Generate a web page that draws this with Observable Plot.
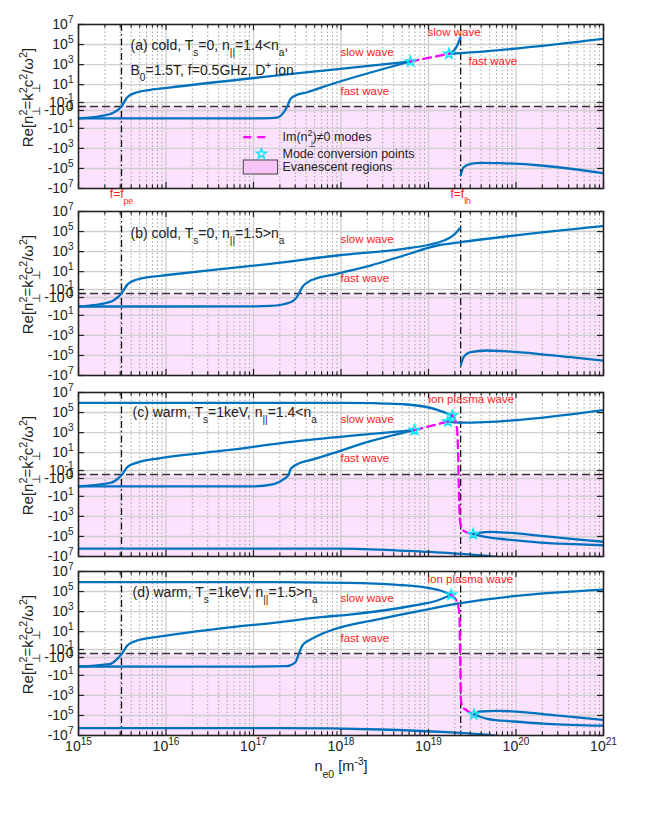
<!DOCTYPE html>
<html><head><meta charset="utf-8">
<script src="https://cdn.jsdelivr.net/npm/d3@7"></script>
<script src="https://cdn.jsdelivr.net/npm/@observablehq/plot@0.6"></script>
<style>
body{margin:0;background:#fff}
#wrap{position:relative;width:654px;height:817px;overflow:hidden}
</style>
</head><body><div id="wrap"></div>
<script>
// ---------- axis values ----------
const xDecades = [1e15, 1e16, 1e17, 1e18, 1e19, 1e20, 1e21];
const xTickLabels = ["10^{15}", "10^{16}", "10^{17}", "10^{18}", "10^{19}", "10^{20}", "10^{21}"];
const yTicks = [1e7, 1e5, 1e3, 1e1, 1e-1, 0, -1e-1, -1e1, -1e3, -1e5, -1e7];
const yTickLabels = ["10^{7}", "10^{5}", "10^{3}", "10^{1}", "10^{-1}", "0", "-10^{-1}", "-10^{1}", "-10^{3}", "-10^{5}", "-10^{7}"];
const fpe = 3.1e15, flh = 2.33e19;

// ---------- panel (a) cold, n|| = 1.4 ----------
const aSlow = [[1e15,-0.96],[1.78e15,-0.55],[2.53e15,-0.2],[3.1e15,0],[3.61e15,0.49],[4.69e15,1.7],[6.65e15,3.0],[1.03e16,4.8],[7.59e17,304],[6.22e18,2046]];
const aFast = [[1e15,-0.96],[1e17,-0.94],[1.6e17,-0.9],[1.87e17,-0.8],[2.22e17,-0.18],[2.43e17,0],[2.65e17,0.32],[3.02e17,0.77],[4.11e17,1.7],[7.59e17,10.4],[6.22e18,2046]];
const aIm = [[6.22e18,2046],[1.71e19,1.2e4]];
const aSlow2 = [[1.71e19,1.2e4],[1.95e19,2.55e4],[2.13e19,8.05e4],[2.28e19,3.75e5],[2.32e19,5.4e5]];
const aFast2 = [[1.71e19,1.2e4],[2.32e19,1.4e4],[1e21,3.75e5]];
const aNeg = [[2.33e19,-5e5],[2.51e19,-8.05e4],[3.02e19,-3.44e4],[3.93e19,-2.74e4],[6.65e19,-3.0e4],[1.91e20,-5.08e4],[5.46e20,-1.43e5],[1e21,-2.98e5]];
const aStars = [[6.22e18,2046],[1.71e19,1.2e4]];

// ---------- panel (b) cold, n|| = 1.5 ----------
const bSlow = [[1e15,-1.25],[1.78e15,-0.7],[2.53e15,-0.25],[3.1e15,0],[3.61e15,0.45],[4.69e15,1.6],[6.65e15,2.9],[1.03e16,4.6],[1.56e17,61],[9.06e17,410],[5.22e18,1910],[1.05e19,5120],[1.5e19,1.28e4],[1.87e19,3.44e4],[2.13e19,1.01e5],[2.28e19,2.16e5]];
const bFast = [[1e15,-1.25],[1e17,-1.24],[1.56e17,-1.1],[2.65e17,-0.43],[3.02e17,-0.16],[3.3e17,0],[3.61e17,0.22],[4.48e17,1.25],[9.06e17,6.1],[2.17e18,41],[5.22e18,410],[1.26e19,4074],[2.32e19,8690],[1e21,3.5e5]];
const bNeg = [[2.35e19,-8.6e5],[2.52e19,-1.5e5],[3.02e19,-4.74e4],[4.66e19,-3.21e4],[7.24e19,-3.78e4],[1.75e20,-6.86e4],[4.2e20,-1.5e5],[1e21,-3.3e5]];

// ---------- panel (c) warm, n|| = 1.4 ----------
const cIon = [[1e15,9.4e5],[9.86e17,9.4e5],[2.37e18,8.57e5],[5.71e18,6.36e5],[8.84e18,4.02e5],[1.26e19,1.88e5],[1.56e19,9.46e4],[1.87e19,5.08e4]];
const cSlow = [[1e15,-0.96],[2.32e15,-0.4],[2.89e15,-0.08],[3.15e15,0],[3.61e15,0.3],[4.69e15,0.96],[8.65e15,2.8],[5e16,17.7],[2.89e17,127],[1.67e18,592],[6.92e18,1742]];
const cFast = [[1e15,-0.96],[1.01e17,-0.95],[1.71e17,-0.55],[2.22e17,-0.13],[2.53e17,0],[2.65e17,0.16],[3.16e17,0.64],[4.89e17,2.17],[9.86e17,15],[1.67e18,70],[6.92e18,1742]];
const cIm1 = [[6.92e18,1742],[1.66e19,1.25e4]];
const cLink = [[1.66e19,1.25e4],[1.87e19,5.08e4]];
const cFast2 = [[1.66e19,1.25e4],[2.32e19,9950],[1e21,1.8e5]];
const cIm2 = [[1.87e19,5.08e4],[2.04e19,1.47e4],[2.13e19,1483],[2.18e19,6.9],[2.22e19,-1.28],[2.26e19,-284],[2.32e19,-6010],[2.53e19,-2.8e4],[3.24e19,-5.97e4]];
const cNegUp = [[3.24e19,-5.97e4],[3.93e19,-4.14e4],[5.11e19,-3.52e4],[7.93e19,-4.14e4],[1.91e20,-8.83e4],[4.58e20,-1.88e5],[1e21,-3.4e5]];
const cNegLow = [[3.24e19,-5.97e4],[4.29e19,-1.04e5],[7.93e19,-2.06e5],[1.91e20,-4.11e5],[4.58e20,-5.93e5],[1e21,-7.6e5]];
const cBottom = [[1e15,-1.63e6],[9.86e17,-1.63e6],[5.71e18,-2.76e6],[2.13e19,-5.13e6],[5.57e19,-1.02e7],[1e20,-2e7]];
const cStars = [[6.92e18,1742],[1.66e19,1.25e4],[1.87e19,5.08e4],[3.24e19,-5.97e4]];

// ---------- panel (d) warm, n|| = 1.5 ----------
const dIon = [[1e15,8.57e5],[2.04e17,8.57e5],[1.18e18,7.46e5],[4.38e18,4.72e5],[8.84e18,2.72e5],[1.37e19,1.27e5],[1.82e19,4.74e4]];
const dSlow = [[1e15,-1.25],[2.32e15,-0.64],[2.89e15,-0.09],[3.15e15,0],[3.61e15,0.35],[4.69e15,1.25],[8.65e15,3.3],[5e16,25],[2.04e17,88],[5.83e17,277],[1.18e18,481],[6.79e18,4074],[1.26e19,1.28e4],[1.82e19,4.74e4]];
const dFast = [[1e15,-1.25],[1e17,-1.27],[2.4e17,-1.15],[3.02e17,-0.43],[3.3e17,0],[3.61e17,0.35],[4.28e17,1.25],[5.83e17,5.2],[7.59e17,13.1],[2.83e18,192],[1.05e19,1910],[2.32e19,6900],[9.44e19,3.44e4],[1e21,1.55e5]];
const dIm = [[1.82e19,4.74e4],[2.13e19,8690],[2.26e19,410],[2.28e19,1.88],[2.32e19,-4.8],[2.34e19,-2190],[2.47e19,-1.51e4],[2.65e19,-2.56e4],[3.3e19,-8.05e4]];
const dNegUp = [[3.3e19,-8.05e4],[3.93e19,-4.05e4],[6.09e19,-3.44e4],[1.47e20,-5.45e4],[3.52e20,-1.19e5],[1e21,-2.85e5]];
const dNegLow = [[3.3e19,-8.05e4],[4.69e19,-2.16e5],[9.44e19,-4.02e5],[2.27e20,-6.81e5],[1e21,-1.05e6]];
const dBottom = [[1e15,-1.87e6],[2.04e17,-1.87e6],[2.83e18,-2.52e6],[1.64e19,-4.68e6],[5.57e19,-1e7],[1e20,-2e7]];
const dStars = [[1.82e19,4.74e4],[3.3e19,-8.05e4]];

// ---------- texts ----------
const yTitle = "Re[n_{⊥}^{2}=k_{⊥}^{2}c^{2}/ω^{2}]";
const xTitle = "n_{e0} [m^{-3}]";
const legendTexts = ["Im(n_{⊥}^{2})≠0 modes", "Mode conversion points", "Evanescent regions"];
const legendGeo = {x1: 7.74e16, x2: 1.56e17, yLine: -76.7, xStar: 1.23e17, yStar: -3470, bx2: 1.91e17, by1: -1.61e4, by2: -4.02e5};

// ---------- style ----------
const BLUE = "#0072bd", MAG = "#ff00ff", CYAN = "#00e8f5", RED = "#ff1a1a", PINK = "#fde2fd", INK = "#222";
const FONT = "'Liberation Sans', Arial, Helvetica, sans-serif";
const ML = 78, MR = 51, PH = 164, W = 654, STAR_R = 3.2;
const xMinor = [];
for (let e = 15; e < 21; e++) for (let k = 2; k <= 9; k++) xMinor.push(k * Math.pow(10, e));

function note(text, dx, dy, fill, size) {
  return Plot.text([text], {frameAnchor: "top-left", dx, dy, text: d => d, fill, fontSize: size, textAnchor: "start", lineAnchor: "middle"});
}

function panel(cfg) {
  const marks = [
    Plot.rect([0], {x1: 1e15, x2: 1e21, y1: -1e7, y2: 0, fill: PINK}),
    Plot.ruleX(xMinor, {stroke: "#9c9c9c", strokeWidth: 1, strokeDasharray: "1.4,2.4"}),
    Plot.ruleX(xDecades.slice(1, -1), {stroke: "#cfcfcf", strokeWidth: 1.4}),
    Plot.ruleY(yTicks.filter(v => v !== 0 && Math.abs(v) < 1e7), {stroke: "#cfcfcf", strokeWidth: 1.4}),
    Plot.ruleY([0], {stroke: "#333", strokeWidth: 1.6, strokeDasharray: "8,4"}),
    Plot.ruleX([fpe, flh], {stroke: "#111", strokeWidth: 1.3, strokeDasharray: "7,3,1.5,3"})
  ];
  if (cfg.legend) {
    marks.push(Plot.rect([0], {x1: legendGeo.x1, x2: legendGeo.bx2, y1: legendGeo.by1, y2: legendGeo.by2, fill: "#f6c4f6", stroke: "#444", strokeWidth: 1}));
  }
  for (const arr of cfg.blue) marks.push(Plot.line(arr, {stroke: BLUE, strokeWidth: 2.3, curve: "monotone-x", clip: true}));
  for (const arr of cfg.mag) marks.push(Plot.line(arr, {stroke: MAG, strokeWidth: 2.3, strokeDasharray: "8,5", curve: "monotone-x", clip: true}));
  if (cfg.stars) marks.push(Plot.dot(cfg.stars, {symbol: "star", r: STAR_R, stroke: CYAN, strokeWidth: 1.4, fill: "none"}));
  if (cfg.legend) {
    marks.push(Plot.ruleY([legendGeo.yLine], {x1: legendGeo.x1, x2: legendGeo.x2, stroke: MAG, strokeWidth: 2.3, strokeDasharray: "8,6"}));
    marks.push(Plot.dot([[legendGeo.xStar, legendGeo.yStar]], {symbol: "star", r: STAR_R, stroke: CYAN, strokeWidth: 1.4, fill: "none"}));
    marks.push(note(legendTexts[0], 204, 112.7, INK, 12.5));
    marks.push(note(legendTexts[1], 204, 129.3, INK, 12.5));
    marks.push(note(legendTexts[2], 204, 142.7, INK, 12.5));
  }
  // inward ticks
  const tk = {stroke: INK, strokeWidth: 1.2};
  marks.push(
    Plot.ruleX(xDecades, {y1: 1e7, y2: 2.5e6, ...tk}),
    Plot.ruleX(xMinor, {y1: 1e7, y2: 4.5e6, ...tk}),
    Plot.ruleX(xDecades, {y1: -1e7, y2: -2.5e6, ...tk}),
    Plot.ruleX(xMinor, {y1: -1e7, y2: -4.5e6, ...tk}),
    Plot.ruleY(yTicks, {x1: 1e15, x2: 1.17e15, ...tk}),
    Plot.ruleY(yTicks, {x1: 8.55e20, x2: 1e21, ...tk}),
    Plot.frame({stroke: INK, strokeWidth: 1.6}),
    Plot.axisY({ticks: yTicks, tickFormat: d => yTickLabels[yTicks.indexOf(d)], tickSize: 0, tickPadding: 5, label: null, fontSize: 14}),
    Plot.text([yTitle], {frameAnchor: "top-left", dx: -50, dy: 73, rotate: -90, text: d => d, fontSize: 15, textAnchor: "middle", lineAnchor: "middle", fill: INK})
  );
  for (const n of cfg.notes) marks.push(note(n[0], n[1], n[2], n[3] || INK, n[4] || 14));
  if (cfg.flabels) {
    marks.push(Plot.text([fpe], {x: d => d, frameAnchor: "bottom", dy: 6, text: () => "f=f_{pe}", fill: RED, fontSize: 12, lineAnchor: "middle"}));
    marks.push(Plot.text([flh], {x: d => d, frameAnchor: "bottom", dy: 6, text: () => "f=f_{lh}", fill: RED, fontSize: 12, lineAnchor: "middle"}));
  }
  if (cfg.xaxis) {
    marks.push(Plot.axisX({ticks: xDecades, tickFormat: d => xTickLabels[xDecades.indexOf(d)], tickSize: 0, tickPadding: 6, label: null, fontSize: 14}));
    marks.push(Plot.text([xTitle], {frameAnchor: "bottom", dy: 31, text: d => d, fontSize: 14.5, lineAnchor: "middle", fill: INK}));
  }
  const svg = Plot.plot({
    width: W, height: cfg.mt + PH + cfg.mb,
    marginLeft: ML, marginRight: MR, marginTop: cfg.mt, marginBottom: cfg.mb,
    x: {type: "log", domain: [1e15, 1e21], axis: cfg.xaxis ? undefined : null},
    y: {type: "symlog", constant: 0.0667, domain: [-1e7, 1e7]},
    style: {fontFamily: FONT, fontSize: "14px", color: INK, background: "transparent", overflow: "visible"},
    marks
  });
  svg.style.position = "absolute";
  svg.style.left = "0px";
  svg.style.top = cfg.top + "px";
  return svg;
}

const panels = [
  {top: 0, mt: 24, mb: 20, legend: true, flabels: true,
   blue: [aSlow, aFast, aSlow2, aFast2, aNeg], mag: [aIm], stars: aStars,
   notes: [["(a) cold, T_{s}=0, n_{||}=1.4<n_{a},", 52, 21], ["B_{0}=1.5T, f=0.5GHz, D^{+} ion", 52, 46],
           ["slow wave", 262, 28, RED, 11.5], ["fast wave", 262, 67, RED, 11.5],
           ["slow wave", 349, 8, RED, 11.5], ["fast wave", 390, 37, RED, 11.5]]},
  {top: 208, mt: 3, mb: 8,
   blue: [bSlow, bFast, bNeg], mag: [], stars: null,
   notes: [["(b) cold, T_{s}=0, n_{||}=1.5>n_{a}", 52, 22], ["slow wave", 262, 28, RED, 11.5], ["fast wave", 262, 67, RED, 11.5]]},
  {top: 383, mt: 9, mb: 7,
   blue: [cIon, cSlow, cFast, cLink, cFast2, cNegUp, cNegLow, cBottom], mag: [cIm1, cIm2], stars: cStars,
   notes: [["(c) warm, T_{s}=1keV, n_{||}=1.4<n_{a}", 54, 19.7], ["slow wave", 262, 27.3, RED, 11.5], ["fast wave", 262, 66.3, RED, 11.5], ["ion plasma wave", 350, 7.3, RED, 11.5]]},
  {top: 563, mt: 8, mb: 82, xaxis: true,
   blue: [dIon, dSlow, dFast, dNegUp, dNegLow, dBottom], mag: [dIm], stars: dStars,
   notes: [["(d) warm, T_{s}=1keV, n_{||}=1.5>n_{a}", 54, 20.7], ["slow wave", 262, 27, RED, 11.5], ["fast wave", 262, 67, RED, 11.5], ["ion plasma wave", 349, 8, RED, 11.5]]}
];

const wrap = document.getElementById("wrap");
for (const p of panels) wrap.appendChild(panel(p));

// ---------- sub/superscript markup -> tspans (sub followed by sup is stacked) ----------
const SUB = 0.45, SUP = 0.45, SCALE = 0.72;
function parse(s) {
  const segs = []; let i = 0, buf = "";
  while (i < s.length) {
    if ((s[i] === "_" || s[i] === "^") && s[i + 1] === "{") {
      if (buf) { segs.push({t: buf, m: 0}); buf = ""; }
      const j = s.indexOf("}", i + 2);
      segs.push({t: s.slice(i + 2, j), m: s[i] === "_" ? 1 : -1});
      i = j + 1;
    } else { buf += s[i]; i++; }
  }
  if (buf) segs.push({t: buf, m: 0});
  return segs;
}
wrap.querySelectorAll("text").forEach(t => {
  const s = t.textContent;
  if (!/[_^]\{/.test(s)) return;
  const fs = parseFloat(getComputedStyle(t).fontSize) || 14;
  const segs = parse(s);
  t.textContent = "";
  let cur = 0, prev = null, prevSeg = null;
  for (const g of segs) {
    const ts = document.createElementNS("http://www.w3.org/2000/svg", "tspan");
    const target = g.m === 1 ? fs * SUB : g.m === -1 ? -fs * SUP : 0;
    const d = target - cur;
    if (d) ts.setAttribute("dy", d.toFixed(2));
    if (g.m) ts.setAttribute("font-size", (fs * SCALE).toFixed(2));
    if (g.m === -1 && prevSeg && prevSeg.m === 1 && prev) {
      const w = prev.getComputedTextLength();
      if (w) ts.setAttribute("dx", (-w).toFixed(2));
    }
    ts.textContent = g.t;
    t.appendChild(ts);
    cur = target; prev = ts; prevSeg = g;
  }
});
</script>
</body></html>
